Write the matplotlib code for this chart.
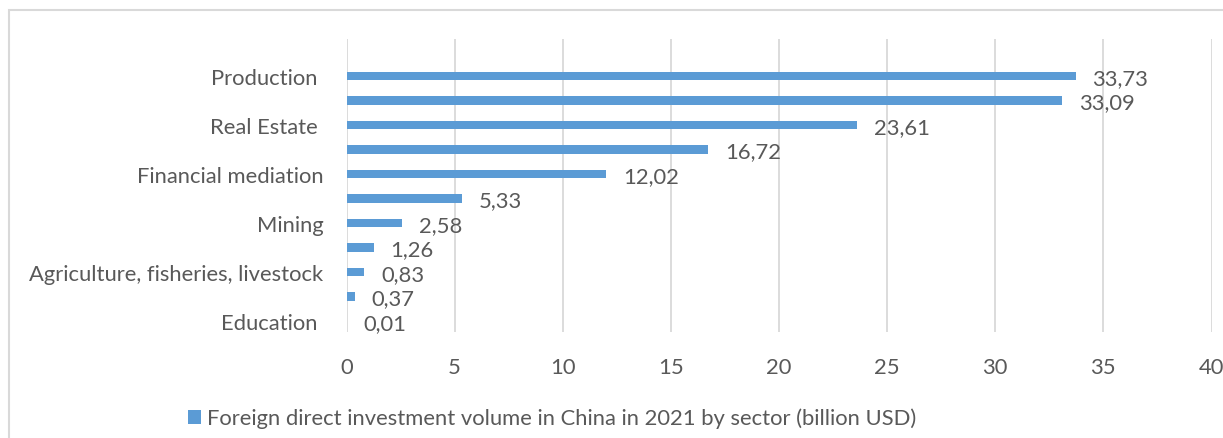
import matplotlib
matplotlib.use("Agg")
import matplotlib.pyplot as plt
from matplotlib.patches import Rectangle, Patch

# Data (top to bottom as displayed)
categories = ["Production ", "", "Real Estate ", "", "Financial mediation", "",
              "Mining", "", "Agriculture, fisheries, livestock", "", "Education "]
values = [33.73, 33.09, 23.61, 16.72, 12.02, 5.33, 2.58, 1.26, 0.83, 0.37, 0.01]
series_name = "Foreign direct investment volume in China in 2021 by sector (billion USD)"
xticks = [0, 5, 10, 15, 20, 25, 30, 35, 40]

BAR = "#5B9BD5"
TXT = "#595959"
GRID = "#D9D9D9"
FONT = "Lato"
FS = 15.8

plt.rcParams['font.family'] = [FONT, 'DejaVu Sans']

W, H = 1223, 439
fig = plt.figure(figsize=(W / 100, H / 100), dpi=100)

# outer chart border
fig.patches.append(Rectangle((9 / W, -0.1), 1.2, (H - 11) / H + 0.1,
                             transform=fig.transFigure, fill=False,
                             edgecolor=GRID, linewidth=1.5))

left, right, top, bottom = 346.5, 1211.5, 40, 333
ax = fig.add_axes([left / W, 1 - bottom / H, (right - left) / W, (bottom - top) / H])

n = len(values)
ypos = list(range(n - 1, -1, -1))
ax.barh(ypos, values, height=0.36, color=BAR, zorder=3)

for y, v in zip(ypos, values):
    ax.annotate(f"{v:.2f}".replace(".", ","), xy=(v, y), xytext=(12, -1.2),
                textcoords="offset points", ha="left", va="center",
                fontsize=FS, color=TXT, zorder=4)

ax.set_xlim(0, 40)
ax.set_ylim(-0.45, n - 1 + 1.51)
ax.set_xticks(xticks)
ax.set_xticklabels([str(t) for t in xticks])
ax.set_yticks(ypos)
ax.set_yticklabels(categories)
ax.tick_params(axis="both", length=0, labelsize=FS, labelcolor=TXT)
ax.tick_params(axis="y", pad=16.5)
ax.tick_params(axis="x", pad=18)
ax.grid(axis="x", color=GRID, linewidth=1.3, zorder=0)
for s in ax.spines.values():
    s.set_visible(False)

fig.legend(handles=[Patch(facecolor=BAR, edgecolor="none")], labels=[series_name],
           loc="center left", bbox_to_anchor=(188 / W, 1 - 419 / H), frameon=False,
           fontsize=FS, labelcolor=TXT, handlelength=0.6, handleheight=0.6,
           handletextpad=0.27, borderpad=0, borderaxespad=0)

fig.savefig("out.png", dpi=100)
